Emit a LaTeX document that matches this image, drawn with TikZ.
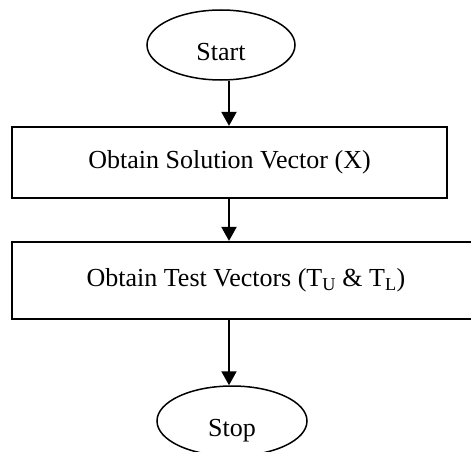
\documentclass[tikz,border=0pt]{standalone}
\usepackage{fontspec}
\setmainfont{Liberation Serif}
\usepackage{tikz}
\usetikzlibrary{arrows.meta,shapes.geometric}

\begin{document}
\begin{tikzpicture}[->,>={Triangle[length=14pt,width=15pt]}
  ,x=1pt,y=-1pt
  ,line width=2pt
  ,font=\fontsize{26}{30}\selectfont]
  \tikzstyle{terminal}=[ellipse,draw,line width=1.5pt,inner sep=0pt,
  minimum width=148pt,minimum height=70pt,text height=30pt,text depth=0pt]
  \tikzstyle{process}=[rectangle,draw,line width=2.2pt,inner sep=0pt]

  \useasboundingbox (0,0) rectangle (471,452);

  % flow axis
  \coordinate (axis) at (229,0);

  % start / stop ellipses
  \node[terminal](start) at (221,45) {Start};
  \node[terminal,minimum width=150pt](stop) at (232,421) {Stop};
  % 2 boxes
  \node[process,minimum width=435pt,minimum height=71pt](obtx) at (229.5,162.5)
  {Obtain Solution Vector (X)};
  \node[process,minimum width=468pt,minimum height=77pt](obtt) at (246,280.5)
  {Obtain Test Vectors (T\textsubscript{U} \& T\textsubscript{L})};

  \draw (start.south -| axis) -- (obtx.north -| axis);
  \draw (obtx.south -| axis) -- (obtt.north -| axis);
  \draw (obtt.south -| axis) -- (stop.north -| axis);

\end{tikzpicture}
\end{document}
